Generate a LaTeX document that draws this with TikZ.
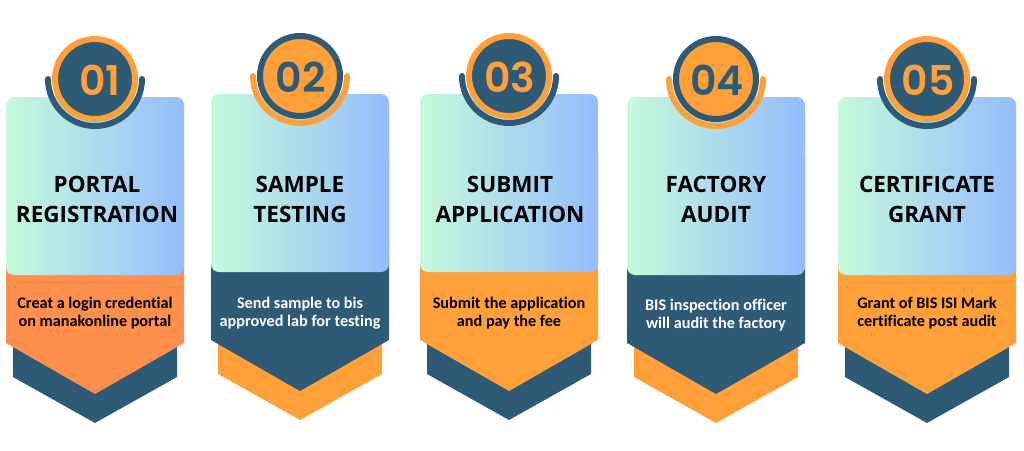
\documentclass[tikz,border=0pt]{standalone}
\usepackage{fontspec}
\setmainfont{Open Sans}
\newfontfamily\numfont{Poppins}[BoldFont={Poppins SemiBold}]
\newfontfamily\subfont{Carlito}[RawFeature={-liga}]
\usetikzlibrary{positioning,calc}
\definecolor{navy}{HTML}{2F5A75}
\definecolor{amber}{HTML}{FFA03A}
\definecolor{coral}{HTML}{FF8F4D}
\definecolor{mint}{HTML}{C6FADB}
\definecolor{sky}{HTML}{95BCFC}
\tikzset{
  titletext/.style={font=\fontsize{22.5}{30}\selectfont\bfseries,align=center,text=black},
  subtext/.style={font=\fontsize{16.2}{18}\selectfont\subfont\bfseries,align=center},
  numtext/.style={font=\fontsize{41}{41}\selectfont\numfont\bfseries},
}
\begin{document}
\begin{tikzpicture}[x=1pt,y=-1pt]
  \useasboundingbox (0,0) rectangle (1024,450);
  % center x / top y / front / back / text / number / number shift / title x / sub y / labels
  \foreach \cx/\ty/\front/\back/\subcol/\ringcol/\num/\numdx/\tx/\suby/\one/\two/\subone/\subtwo in {
    95/97/coral/navy/black/amber/01/5/97/313/PORTAL/REGISTRATION/Creat a login credential/on manakonline portal,
    300/94/navy/amber/white/navy/02/1/300/313/SAMPLE/TESTING/Send sample to bis/approved lab for testing,
    509/94/amber/navy/black/amber/03/1/510/313/SUBMIT/APPLICATION/Submit the application/and pay the fee,
    716/97/navy/amber/white/navy/04/1/716/315/FACTORY/AUDIT/BIS inspection officer/will audit the factory,
    927/97/amber/navy/black/amber/05/1/927/313/CERTIFICATE/GRANT/Grant of BIS ISI Mark/certificate post audit}{
    % back chevron, front pentagon
    \fill[\back] (\cx-82,\ty+240) -- (\cx+82,\ty+240) -- (\cx+82,\ty+280) -- (\cx,\ty+326) -- (\cx-82,\ty+280) -- cycle;
    \fill[\front] (\cx-89,\ty+60) -- (\cx+89,\ty+60) -- (\cx+89,\ty+246) -- (\cx,\ty+297) -- (\cx-89,\ty+246) -- cycle;
    % card
    \shade[left color=mint,right color=sky,rounded corners=8pt] (\cx-89,\ty) rectangle (\cx+89,\ty+178);
    % badge
    \draw[\back,line width=6pt,line cap=round] (\cx-47,\ty-18) arc[start angle=180,end angle=0,radius=47];
    \node[circle,draw=\ringcol,fill=\back,line width=6pt,minimum size=80pt,inner sep=0pt] (badge\num) at (\cx,\ty-18) {};
    \node[numtext,text=\ringcol] (number\num) at ($(badge\num)+(\numdx,1)$) {\num};
    % texts
    \node[titletext] (title\num) at (\tx,199) {\one\\\two};
    \node[subtext,text=\subcol] (sub\num) at (\cx,\suby) {\subone\\\subtwo};
  }
\end{tikzpicture}
\end{document}
